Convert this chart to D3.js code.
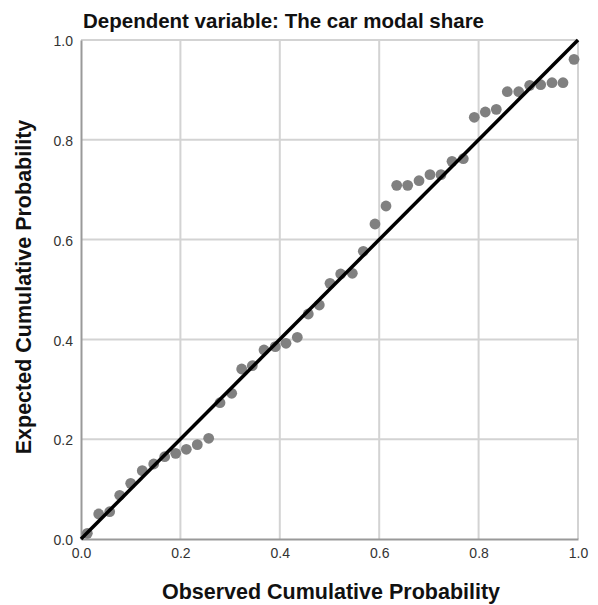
<!DOCTYPE html>
<html><head><meta charset="utf-8">
<script src="https://cdn.jsdelivr.net/npm/d3@7"></script>
<style>body{margin:0;background:#fff;} svg{display:block;font-family:"Liberation Sans",Arial,sans-serif;}</style>
</head><body><svg id="chart" width="598" height="605"></svg>
<script>
const title = "Dependent variable: The car modal share";
const xTitle = "Observed Cumulative Probability";
const yTitle = "Expected Cumulative Probability";
const tickValues = [0, 0.2, 0.4, 0.6, 0.8, 1.0];
const observed = [0.0127,0.0356,0.0577,0.0779,0.100,0.1233,0.1463,0.1684,0.1905,0.2119,0.2340,0.2569,0.2797,0.3032,0.3233,0.3447,0.3682,0.3909,0.4125,0.4352,0.4573,0.4795,0.5010,0.5225,0.5459,0.5680,0.5915,0.6137,0.6352,0.6573,0.6801,0.7022,0.7243,0.7465,0.7692,0.7913,0.8135,0.8356,0.8577,0.8807,0.9028,0.9249,0.9477,0.9698,0.9920];
const expected = [0.0114,0.0501,0.0547,0.0876,0.1116,0.1369,0.1503,0.1649,0.1717,0.1798,0.1890,0.2018,0.2731,0.2920,0.3407,0.3473,0.3788,0.3854,0.3922,0.4042,0.4509,0.4689,0.5124,0.5311,0.5325,0.5766,0.6313,0.6673,0.7088,0.7088,0.7180,0.7301,0.7301,0.7569,0.7621,0.8451,0.8557,0.8611,0.8964,0.8964,0.9092,0.9104,0.9144,0.9144,0.9613];
const refLine = [[0,0],[1,1]];

const svg = d3.select("#chart");
const L = 81, R = 578, T = 40, B = 539;
const x = d3.scaleLinear().domain([0,1]).range([L,R]);
const y = d3.scaleLinear().domain([0,1]).range([B,T]);

// grid
svg.append("g").selectAll("line.gx").data(tickValues.filter(d=>d>0)).join("line")
  .attr("x1",d=>x(d)).attr("x2",d=>x(d)).attr("y1",T).attr("y2",B)
  .attr("stroke","#d3d3d3").attr("stroke-width",2);
svg.append("g").selectAll("line.gy").data(tickValues.filter(d=>d>0)).join("line")
  .attr("y1",d=>y(d)).attr("y2",d=>y(d)).attr("x1",L).attr("x2",R)
  .attr("stroke","#d3d3d3").attr("stroke-width",2);

// axes
const xAxis = svg.append("g").attr("transform",`translate(0,${B})`)
  .call(d3.axisBottom(x).tickValues(tickValues).tickFormat(d3.format(".1f")).tickSize(0).tickPadding(9));
const yAxis = svg.append("g").attr("transform",`translate(${L},0)`)
  .call(d3.axisLeft(y).tickValues(tickValues).tickFormat(d3.format(".1f")).tickSize(0).tickPadding(8));
[xAxis,yAxis].forEach(a=>{
  a.select(".domain").attr("stroke","#999").attr("stroke-width",2);
  a.selectAll("text").attr("font-size",14).attr("fill","#333").attr("font-family","Liberation Sans, Arial, sans-serif");
});
yAxis.selectAll("text").attr("dy","0.4em");

// points
svg.append("g").selectAll("circle").data(observed.map((o,i)=>[o,expected[i]])).join("circle")
  .attr("cx",d=>x(d[0])).attr("cy",d=>y(d[1])).attr("r",5.4).attr("fill","#808080");

// reference line
svg.append("path").datum(refLine)
  .attr("d",d3.line().x(d=>x(d[0])).y(d=>y(d[1])))
  .attr("stroke","#000").attr("stroke-width",3.5).attr("fill","none");

// titles
svg.append("text").attr("x",83).attr("y",28).attr("font-size",20.5).attr("font-weight","bold").attr("fill","#111").text(title);
svg.append("text").attr("x",331).attr("y",599).attr("text-anchor","middle").attr("font-size",21.5).attr("font-weight","bold").attr("fill","#111").text(xTitle);
svg.append("text").attr("transform","translate(31,287) rotate(-90)").attr("text-anchor","middle").attr("font-size",21.5).attr("font-weight","bold").attr("fill","#111").text(yTitle);
</script></body></html>
